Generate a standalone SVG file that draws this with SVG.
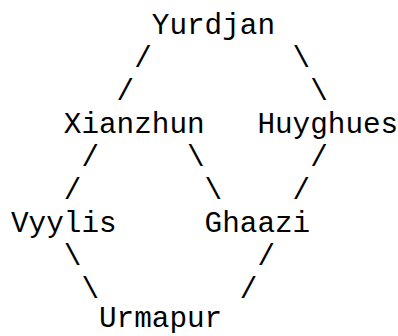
<svg xmlns="http://www.w3.org/2000/svg" width="398" height="336" viewBox="0 0 398 336">
<style>
text { font-family: "Liberation Mono", monospace; font-size: 29.33px; fill: #000; }
</style>
<rect width="398" height="336" fill="#fff"/>
<g id="connectors">
<text x="134.2" y="66.6">/</text>
<text x="292.6" y="66.6">\</text>
<text x="116.6" y="99.7">/</text>
<text x="310.2" y="99.7">\</text>
<text x="81.4" y="165.9">/</text>
<text x="187" y="165.9">\</text>
<text x="310.2" y="165.9">/</text>
<text x="63.8" y="199">/</text>
<text x="204.6" y="199">\</text>
<text x="292.6" y="199">/</text>
<text x="63.8" y="265.2">\</text>
<text x="257.4" y="265.2">/</text>
<text x="81.4" y="298.3">\</text>
<text x="239.8" y="298.3">/</text>
</g>
<g id="Yurdjan"><text x="151.8" y="33.5">Yurdjan</text></g>
<g id="Xianzhun"><text x="63.8" y="132.8">Xianzhun</text></g>
<g id="Huyghues"><text x="257.4" y="132.8">Huyghues</text></g>
<g id="Vyylis"><text x="11" y="232.1">Vyylis</text></g>
<g id="Ghaazi"><text x="204.6" y="232.1">Ghaazi</text></g>
<g id="Urmapur"><text x="99" y="327">Urmapur</text></g>
</svg>
